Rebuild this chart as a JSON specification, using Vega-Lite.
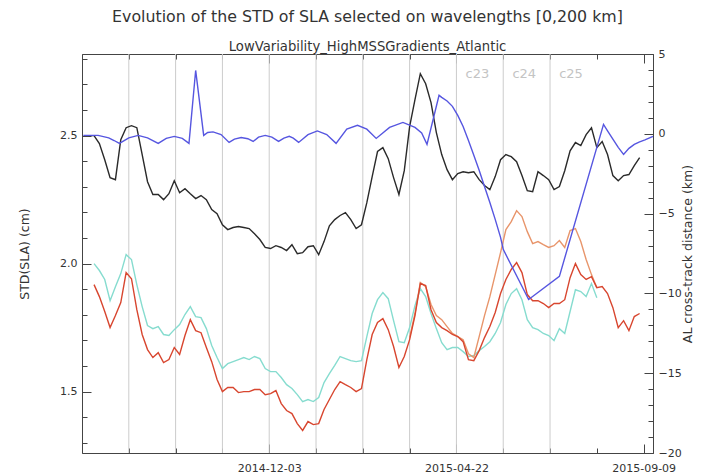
{
  "$schema": "https://vega.github.io/schema/vega-lite/v6.json",
  "width": 571,
  "height": 399,
  "autosize": {"type": "none"},
  "padding": {"left": 82, "top": 54, "right": 67, "bottom": 20},
  "background": "white",
  "config": {
    "font": "DejaVu Sans",
    "view": {"stroke": null},
    "axis": {
      "grid": false,
      "domainColor": "#444444",
      "tickColor": "#444444",
      "labelColor": "#333333",
      "labelFontSize": 11,
      "labelFont": "DejaVu Sans",
      "titleFont": "DejaVu Sans",
      "titleFontWeight": "normal",
      "titleColor": "#333333",
      "titleFontSize": 12.5,
      "labelOverlap": false,
      "labelFlush": false,
      "labelBound": false
    }
  },
  "title": {
    "text": "Evolution of the STD of SLA selected on wavelengths [0,200 km]",
    "subtitle": "LowVariability_HighMSSGradients_Atlantic",
    "fontSize": 15.8,
    "fontWeight": "normal",
    "font": "DejaVu Sans",
    "subtitleFont": "DejaVu Sans",
    "subtitleFontSize": 13.2,
    "color": "#333333",
    "subtitleColor": "#333333",
    "anchor": "middle",
    "frame": "group",
    "offset": -6,
    "subtitlePadding": 15
  },
  "datasets": {
    "cycles": [
      {"cycle": 16, "date": "2014-08-20"},
      {"cycle": 17, "date": "2014-09-24"},
      {"cycle": 18, "date": "2014-10-29"},
      {"cycle": 19, "date": "2014-12-03"},
      {"cycle": 20, "date": "2015-01-07"},
      {"cycle": 21, "date": "2015-02-11"},
      {"cycle": 22, "date": "2015-03-18"},
      {"cycle": 23, "date": "2015-04-22", "label": "c23"},
      {"cycle": 24, "date": "2015-05-27", "label": "c24"},
      {"cycle": 25, "date": "2015-07-01", "label": "c25"}
    ],
    "std": [
      {"date": "2014-07-21", "black": 2.5},
      {"date": "2014-07-25", "black": 2.5, "cyan": 2.0, "red": 1.918},
      {"date": "2014-07-29", "black": 2.469, "cyan": 1.973, "red": 1.871},
      {"date": "2014-08-02", "black": 2.406, "cyan": 1.938, "red": 1.813},
      {"date": "2014-08-06", "black": 2.336, "cyan": 1.855, "red": 1.75},
      {"date": "2014-08-10", "black": 2.328, "cyan": 1.91, "red": 1.797},
      {"date": "2014-08-14", "black": 2.484, "cyan": 1.961, "red": 1.848},
      {"date": "2014-08-18", "black": 2.531, "cyan": 2.035, "red": 1.965},
      {"date": "2014-08-22", "black": 2.539, "cyan": 2.016, "red": 1.941},
      {"date": "2014-08-26", "black": 2.531, "cyan": 1.918, "red": 1.82},
      {"date": "2014-08-30", "black": 2.426, "cyan": 1.832, "red": 1.723},
      {"date": "2014-09-03", "black": 2.32, "cyan": 1.758, "red": 1.664},
      {"date": "2014-09-07", "black": 2.27, "cyan": 1.746, "red": 1.633},
      {"date": "2014-09-11", "black": 2.27, "cyan": 1.754, "red": 1.652},
      {"date": "2014-09-15", "black": 2.25, "cyan": 1.723, "red": 1.613},
      {"date": "2014-09-19", "black": 2.273, "cyan": 1.719, "red": 1.625},
      {"date": "2014-09-23", "black": 2.324, "cyan": 1.742, "red": 1.672},
      {"date": "2014-09-27", "black": 2.277, "cyan": 1.762, "red": 1.645},
      {"date": "2014-10-01", "black": 2.293, "cyan": 1.801, "red": 1.719},
      {"date": "2014-10-05", "black": 2.273, "cyan": 1.832, "red": 1.781},
      {"date": "2014-10-09", "black": 2.254, "cyan": 1.793, "red": 1.738},
      {"date": "2014-10-13", "black": 2.266, "cyan": 1.789, "red": 1.73},
      {"date": "2014-10-17", "black": 2.25, "cyan": 1.746, "red": 1.672},
      {"date": "2014-10-21", "black": 2.211, "cyan": 1.68, "red": 1.617},
      {"date": "2014-10-25", "black": 2.195, "cyan": 1.633, "red": 1.547},
      {"date": "2014-10-29", "black": 2.152, "cyan": 1.59, "red": 1.5},
      {"date": "2014-11-02", "black": 2.133, "cyan": 1.609, "red": 1.516},
      {"date": "2014-11-06", "black": 2.141, "cyan": 1.617, "red": 1.516},
      {"date": "2014-11-10", "black": 2.145, "cyan": 1.625, "red": 1.496},
      {"date": "2014-11-14", "black": 2.141, "cyan": 1.633, "red": 1.5},
      {"date": "2014-11-18", "black": 2.137, "cyan": 1.625, "red": 1.5},
      {"date": "2014-11-22", "black": 2.117, "cyan": 1.637, "red": 1.508},
      {"date": "2014-11-26", "black": 2.094, "cyan": 1.629, "red": 1.508},
      {"date": "2014-11-30", "black": 2.063, "cyan": 1.59, "red": 1.488},
      {"date": "2014-12-04", "black": 2.059, "cyan": 1.578, "red": 1.492},
      {"date": "2014-12-08", "black": 2.07, "cyan": 1.578, "red": 1.504},
      {"date": "2014-12-12", "black": 2.063, "cyan": 1.555, "red": 1.453},
      {"date": "2014-12-16", "black": 2.051, "cyan": 1.527, "red": 1.426},
      {"date": "2014-12-20", "black": 2.074, "cyan": 1.512, "red": 1.414},
      {"date": "2014-12-24", "black": 2.039, "cyan": 1.488, "red": 1.375},
      {"date": "2014-12-28", "black": 2.043, "cyan": 1.461, "red": 1.348},
      {"date": "2015-01-01", "black": 2.066, "cyan": 1.469, "red": 1.383},
      {"date": "2015-01-05", "black": 2.07, "cyan": 1.461, "red": 1.371},
      {"date": "2015-01-09", "black": 2.035, "cyan": 1.477, "red": 1.375},
      {"date": "2015-01-13", "black": 2.086, "cyan": 1.535, "red": 1.43},
      {"date": "2015-01-17", "black": 2.148, "cyan": 1.57, "red": 1.469},
      {"date": "2015-01-21", "black": 2.172, "cyan": 1.602, "red": 1.508},
      {"date": "2015-01-25", "black": 2.188, "cyan": 1.637, "red": 1.539},
      {"date": "2015-01-29", "black": 2.199, "cyan": 1.629, "red": 1.527},
      {"date": "2015-02-02", "black": 2.172, "cyan": 1.621, "red": 1.516},
      {"date": "2015-02-06", "black": 2.137, "cyan": 1.617, "red": 1.5},
      {"date": "2015-02-10", "black": 2.152, "cyan": 1.621, "red": 1.512},
      {"date": "2015-02-14", "black": 2.238, "cyan": 1.715, "red": 1.625},
      {"date": "2015-02-18", "black": 2.34, "cyan": 1.805, "red": 1.723},
      {"date": "2015-02-22", "black": 2.438, "cyan": 1.859, "red": 1.77},
      {"date": "2015-02-26", "black": 2.453, "cyan": 1.887, "red": 1.785},
      {"date": "2015-03-02", "black": 2.41, "cyan": 1.863, "red": 1.742},
      {"date": "2015-03-06", "black": 2.336, "cyan": 1.777, "red": 1.676},
      {"date": "2015-03-10", "black": 2.27, "cyan": 1.695, "red": 1.594},
      {"date": "2015-03-14", "black": 2.363, "cyan": 1.691, "red": 1.637},
      {"date": "2015-03-18", "black": 2.535, "cyan": 1.75, "red": 1.703, "orange": 1.711},
      {"date": "2015-03-22", "black": 2.641, "cyan": 1.836, "red": 1.797, "orange": 1.805},
      {"date": "2015-03-26", "black": 2.742, "cyan": 1.902, "red": 1.922, "orange": 1.926},
      {"date": "2015-03-30", "black": 2.703, "cyan": 1.871, "red": 1.914, "orange": 1.91},
      {"date": "2015-04-03", "black": 2.629, "cyan": 1.805, "red": 1.82, "orange": 1.84},
      {"date": "2015-04-07", "black": 2.512, "cyan": 1.746, "red": 1.77, "orange": 1.797},
      {"date": "2015-04-11", "black": 2.426, "cyan": 1.691, "red": 1.75, "orange": 1.781},
      {"date": "2015-04-15", "black": 2.367, "cyan": 1.664, "red": 1.738, "orange": 1.754},
      {"date": "2015-04-19", "black": 2.328, "cyan": 1.672, "red": 1.723, "orange": 1.727},
      {"date": "2015-04-23", "black": 2.352, "cyan": 1.672, "red": 1.715, "orange": 1.715},
      {"date": "2015-04-27", "black": 2.359, "cyan": 1.656, "red": 1.695, "orange": 1.703},
      {"date": "2015-05-01", "black": 2.355, "cyan": 1.637, "red": 1.625, "orange": 1.648},
      {"date": "2015-05-05", "black": 2.359, "cyan": 1.641, "red": 1.621, "orange": 1.633},
      {"date": "2015-05-09", "black": 2.328, "cyan": 1.66, "red": 1.66, "orange": 1.715},
      {"date": "2015-05-13", "black": 2.305, "cyan": 1.676, "red": 1.711, "orange": 1.797},
      {"date": "2015-05-17", "black": 2.289, "cyan": 1.695, "red": 1.754, "orange": 1.871},
      {"date": "2015-05-21", "black": 2.34, "cyan": 1.727, "red": 1.809, "orange": 1.957},
      {"date": "2015-05-25", "black": 2.406, "cyan": 1.77, "red": 1.883, "orange": 2.043},
      {"date": "2015-05-29", "black": 2.426, "cyan": 1.84, "red": 1.938, "orange": 2.133},
      {"date": "2015-06-02", "black": 2.418, "cyan": 1.883, "red": 1.977, "orange": 2.164},
      {"date": "2015-06-06", "black": 2.398, "cyan": 1.902, "red": 2.004, "orange": 2.207},
      {"date": "2015-06-10", "black": 2.344, "cyan": 1.859, "red": 1.965, "orange": 2.184},
      {"date": "2015-06-14", "black": 2.285, "cyan": 1.781, "red": 1.879, "orange": 2.125},
      {"date": "2015-06-18", "black": 2.281, "cyan": 1.75, "red": 1.855, "orange": 2.078},
      {"date": "2015-06-22", "black": 2.359, "cyan": 1.742, "red": 1.855, "orange": 2.086},
      {"date": "2015-06-26", "black": 2.344, "cyan": 1.727, "red": 1.844, "orange": 2.074},
      {"date": "2015-06-30", "black": 2.328, "cyan": 1.719, "red": 1.828, "orange": 2.063},
      {"date": "2015-07-04", "black": 2.289, "cyan": 1.699, "red": 1.844, "orange": 2.07},
      {"date": "2015-07-08", "black": 2.301, "cyan": 1.746, "red": 1.844, "orange": 2.09},
      {"date": "2015-07-12", "black": 2.363, "cyan": 1.727, "red": 1.859, "orange": 2.063},
      {"date": "2015-07-16", "black": 2.441, "cyan": 1.813, "red": 1.945, "orange": 2.129},
      {"date": "2015-07-20", "black": 2.473, "cyan": 1.898, "red": 2.0, "orange": 2.137},
      {"date": "2015-07-24", "black": 2.461, "cyan": 1.891, "red": 1.957, "orange": 2.086},
      {"date": "2015-07-28", "black": 2.504, "cyan": 1.871, "red": 1.938, "orange": 2.016},
      {"date": "2015-08-01", "black": 2.531, "cyan": 1.922, "red": 1.949, "orange": 1.957},
      {"date": "2015-08-05", "black": 2.453, "cyan": 1.867, "red": 1.906, "orange": 1.906},
      {"date": "2015-08-09", "black": 2.477, "red": 1.91},
      {"date": "2015-08-13", "black": 2.426, "red": 1.883},
      {"date": "2015-08-17", "black": 2.344, "red": 1.828},
      {"date": "2015-08-21", "black": 2.324, "red": 1.75},
      {"date": "2015-08-25", "black": 2.344, "red": 1.777},
      {"date": "2015-08-29", "black": 2.348, "red": 1.738},
      {"date": "2015-09-02", "black": 2.383, "red": 1.793},
      {"date": "2015-09-06", "black": 2.414, "red": 1.805}
    ],
    "track": [
      {"date": "2014-07-17", "km": -0.10},
      {"date": "2014-07-28", "km": -0.10},
      {"date": "2014-08-05", "km": -0.25},
      {"date": "2014-08-09", "km": -0.42},
      {"date": "2014-08-13", "km": -0.60},
      {"date": "2014-08-20", "km": -0.25},
      {"date": "2014-08-27", "km": -0.10},
      {"date": "2014-09-03", "km": -0.25},
      {"date": "2014-09-11", "km": -0.60},
      {"date": "2014-09-17", "km": -0.29},
      {"date": "2014-09-23", "km": -0.16},
      {"date": "2014-09-29", "km": -0.29},
      {"date": "2014-10-04", "km": -0.60},
      {"date": "2014-10-09", "km": 3.97},
      {"date": "2014-10-15", "km": -0.10},
      {"date": "2014-10-18", "km": 0.08},
      {"date": "2014-10-22", "km": 0.12},
      {"date": "2014-10-28", "km": -0.05},
      {"date": "2014-11-03", "km": -0.54},
      {"date": "2014-11-07", "km": -0.33},
      {"date": "2014-11-12", "km": -0.23},
      {"date": "2014-11-17", "km": -0.31},
      {"date": "2014-11-21", "km": -0.48},
      {"date": "2014-11-25", "km": -0.21},
      {"date": "2014-11-30", "km": -0.10},
      {"date": "2014-12-05", "km": -0.21},
      {"date": "2014-12-10", "km": -0.48},
      {"date": "2014-12-14", "km": -0.27},
      {"date": "2014-12-18", "km": -0.16},
      {"date": "2014-12-21", "km": -0.27},
      {"date": "2014-12-25", "km": -0.54},
      {"date": "2015-01-01", "km": -0.05},
      {"date": "2015-01-08", "km": 0.18},
      {"date": "2015-01-15", "km": -0.05},
      {"date": "2015-01-22", "km": -0.60},
      {"date": "2015-01-30", "km": 0.29},
      {"date": "2015-02-07", "km": 0.53},
      {"date": "2015-02-14", "km": 0.29},
      {"date": "2015-02-21", "km": -0.29},
      {"date": "2015-03-03", "km": 0.40},
      {"date": "2015-03-13", "km": 0.71},
      {"date": "2015-03-22", "km": 0.40},
      {"date": "2015-03-27", "km": 0.05},
      {"date": "2015-03-31", "km": -0.66},
      {"date": "2015-04-09", "km": 2.41},
      {"date": "2015-04-11", "km": 2.28},
      {"date": "2015-04-15", "km": 2.06},
      {"date": "2015-04-19", "km": 1.72},
      {"date": "2015-04-23", "km": 1.15},
      {"date": "2015-04-27", "km": 0.46},
      {"date": "2015-05-01", "km": -0.42},
      {"date": "2015-05-05", "km": -1.35},
      {"date": "2015-05-09", "km": -2.29},
      {"date": "2015-05-13", "km": -3.30},
      {"date": "2015-05-17", "km": -4.30},
      {"date": "2015-05-21", "km": -5.36},
      {"date": "2015-05-25", "km": -6.49},
      {"date": "2015-05-27", "km": -7.24},
      {"date": "2015-06-15", "km": -10.38},
      {"date": "2015-07-08", "km": -8.93},
      {"date": "2015-08-10", "km": 0.59},
      {"date": "2015-08-13", "km": 0.19},
      {"date": "2015-08-17", "km": -0.34},
      {"date": "2015-08-21", "km": -0.85},
      {"date": "2015-08-25", "km": -1.29},
      {"date": "2015-08-29", "km": -0.91},
      {"date": "2015-09-02", "km": -0.66},
      {"date": "2015-09-06", "km": -0.51},
      {"date": "2015-09-10", "km": -0.38},
      {"date": "2015-09-16", "km": -0.16}
    ]
  },
  "layer": [
    {
      "data": {"name": "cycles"},
      "mark": {"type": "rule", "color": "#cccccc", "strokeWidth": 1},
      "encoding": {
        "x": {
          "field": "date",
          "type": "temporal",
          "scale": {
            "type": "utc",
            "domain": [
              {"year": 2014, "month": 7, "date": 16, "utc": true},
              {"year": 2015, "month": 9, "date": 16, "utc": true}
            ]
          },
          "axis": {
            "orient": "bottom",
            "title": null,
            "labels": false,
            "domain": false,
            "tickSize": -5,
            "values": [
              {"year": 2014, "month": 7, "date": 16, "utc": true},
              {"year": 2014, "month": 8, "date": 20, "utc": true},
              {"year": 2014, "month": 9, "date": 24, "utc": true},
              {"year": 2014, "month": 10, "date": 29, "utc": true},
              {"year": 2014, "month": 12, "date": 3, "utc": true},
              {"year": 2015, "month": 1, "date": 7, "utc": true},
              {"year": 2015, "month": 2, "date": 11, "utc": true},
              {"year": 2015, "month": 3, "date": 18, "utc": true},
              {"year": 2015, "month": 4, "date": 22, "utc": true},
              {"year": 2015, "month": 5, "date": 27, "utc": true},
              {"year": 2015, "month": 7, "date": 1, "utc": true},
              {"year": 2015, "month": 8, "date": 5, "utc": true},
              {"year": 2015, "month": 9, "date": 9, "utc": true}
            ]
          }
        },
        "y": {
          "datum": 1.26,
          "type": "quantitative",
          "scale": {"domain": [1.26, 2.819], "nice": false, "zero": false},
          "axis": {
            "orient": "left",
            "title": null,
            "labels": false,
            "domain": false,
            "tickSize": -5,
            "values": [1.3, 1.4, 1.5, 1.6, 1.7, 1.8, 1.9, 2.0, 2.1, 2.2, 2.3, 2.4, 2.5, 2.6, 2.7, 2.8]
          }
        },
        "y2": {"datum": 2.819}
      }
    },
    {
      "data": {"name": "std"},
      "transform": [{"fold": ["black", "cyan", "orange", "red"], "as": ["series", "std"]}],
      "mark": {"type": "line", "strokeWidth": 1.4},
      "encoding": {
        "x": {
          "field": "date",
          "type": "temporal",
          "scale": {
            "type": "utc",
            "domain": [
              {"year": 2014, "month": 7, "date": 16, "utc": true},
              {"year": 2015, "month": 9, "date": 16, "utc": true}
            ]
          },
          "axis": {
            "orient": "bottom",
            "title": null,
            "labelExpr": "utcFormat(datum.value, '%Y-%m-%d')",
            "tickSize": -9,
            "labelPadding": 18,
            "values": [
              {"year": 2014, "month": 12, "date": 3, "utc": true},
              {"year": 2015, "month": 4, "date": 22, "utc": true},
              {"year": 2015, "month": 9, "date": 9, "utc": true}
            ]
          }
        },
        "y": {
          "field": "std",
          "type": "quantitative",
          "scale": {"domain": [1.26, 2.819], "nice": false, "zero": false},
          "axis": {
            "orient": "left",
            "title": "STD(SLA) (cm)",
            "values": [1.5, 2.0, 2.5],
            "format": ".1f",
            "tickSize": -9,
            "labelPadding": 14,
            "titlePadding": 28
          }
        },
        "color": {
          "field": "series",
          "type": "nominal",
          "scale": {"domain": ["black", "cyan", "orange", "red"], "range": ["#2a2a2a", "#86dccf", "#e8956b", "#d8462f"]},
          "legend": null
        }
      }
    },
    {
      "data": {"name": "track"},
      "mark": {"type": "line", "color": "#5656e0", "strokeWidth": 1.4},
      "encoding": {
        "x": {
          "field": "date",
          "type": "temporal",
          "scale": {
            "type": "utc",
            "domain": [
              {"year": 2014, "month": 7, "date": 16, "utc": true},
              {"year": 2015, "month": 9, "date": 16, "utc": true}
            ]
          },
          "axis": {
            "orient": "top",
            "title": null,
            "labels": false,
            "tickSize": -9,
            "values": [
              {"year": 2014, "month": 12, "date": 3, "utc": true},
              {"year": 2015, "month": 4, "date": 22, "utc": true},
              {"year": 2015, "month": 9, "date": 9, "utc": true}
            ]
          }
        },
        "y": {
          "field": "km",
          "type": "quantitative",
          "scale": {"domain": [-20, 5], "nice": false, "zero": false},
          "axis": {
            "orient": "right",
            "title": "AL cross-track distance (km)",
            "titleAngle": -90,
            "values": [-20, -15, -10, -5, 0, 5],
            "format": "d",
            "tickSize": -9,
            "labelPadding": 14,
            "titlePadding": 13
          }
        }
      }
    },
    {
      "data": {"name": "cycles"},
      "transform": [{"filter": "datum.label != null"}],
      "mark": {"type": "text", "color": "#c4c4c4", "fontSize": 13, "dx": 21, "align": "center", "baseline": "middle"},
      "encoding": {
        "x": {
          "field": "date",
          "type": "temporal",
          "scale": {
            "type": "utc",
            "domain": [
              {"year": 2014, "month": 7, "date": 16, "utc": true},
              {"year": 2015, "month": 9, "date": 16, "utc": true}
            ]
          },
          "axis": {
            "orient": "top",
            "title": null,
            "labels": false,
            "domain": false,
            "tickSize": -5,
            "values": [
              {"year": 2014, "month": 7, "date": 16, "utc": true},
              {"year": 2014, "month": 8, "date": 20, "utc": true},
              {"year": 2014, "month": 9, "date": 24, "utc": true},
              {"year": 2014, "month": 10, "date": 29, "utc": true},
              {"year": 2014, "month": 12, "date": 3, "utc": true},
              {"year": 2015, "month": 1, "date": 7, "utc": true},
              {"year": 2015, "month": 2, "date": 11, "utc": true},
              {"year": 2015, "month": 3, "date": 18, "utc": true},
              {"year": 2015, "month": 4, "date": 22, "utc": true},
              {"year": 2015, "month": 5, "date": 27, "utc": true},
              {"year": 2015, "month": 7, "date": 1, "utc": true},
              {"year": 2015, "month": 8, "date": 5, "utc": true},
              {"year": 2015, "month": 9, "date": 9, "utc": true}
            ]
          }
        },
        "y": {
          "datum": 3.72,
          "type": "quantitative",
          "scale": {"domain": [-20, 5], "nice": false, "zero": false},
          "axis": {
            "orient": "right",
            "title": null,
            "labels": false,
            "domain": false,
            "tickSize": -5,
            "values": [-20, -19, -18, -17, -16, -15, -14, -13, -12, -11, -10, -9, -8, -7, -6, -5, -4, -3, -2, -1, 0, 1, 2, 3, 4, 5]
          }
        },
        "text": {"field": "label"}
      }
    }
  ],
  "resolve": {"scale": {"x": "independent", "y": "independent"}, "axis": {"x": "independent", "y": "independent"}}
}
